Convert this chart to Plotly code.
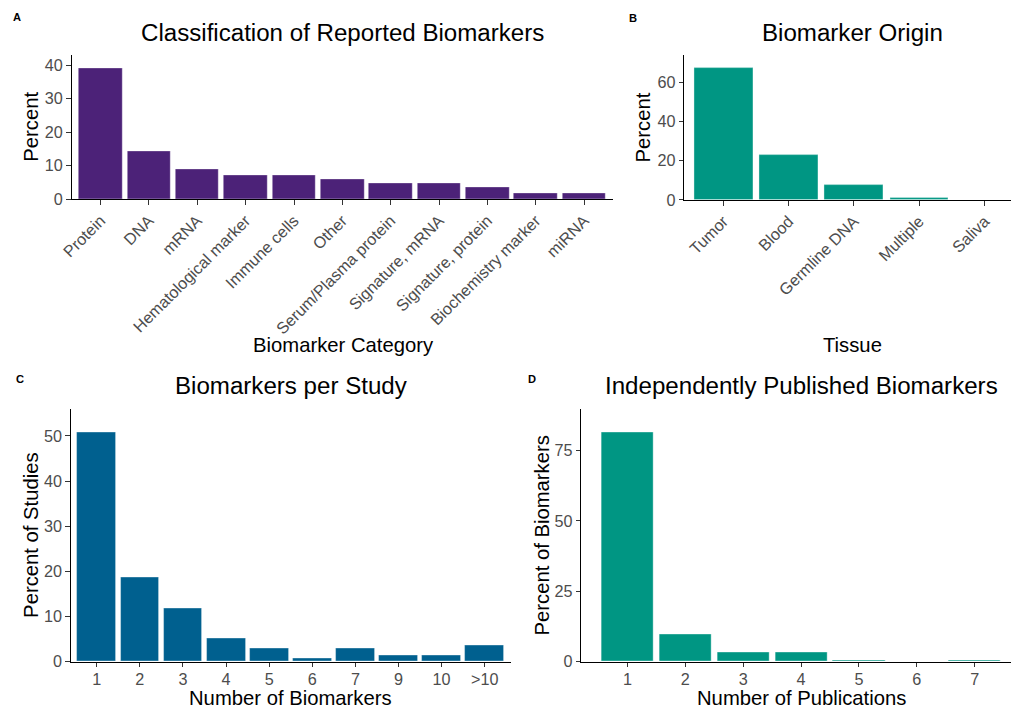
import plotly.graph_objects as go

W, H = 1011, 708

# ---- Data ----
cat_a = ["Protein", "DNA", "mRNA", "Hematological marker", "Immune cells", "Other",
         "Serum/Plasma protein", "Signature, mRNA", "Signature, protein",
         "Biochemistry marker", "miRNA"]
val_a = [39.1, 14.4, 9.0, 7.2, 7.2, 6.0, 4.8, 4.8, 3.5, 1.7, 1.7]

cat_b = ["Tumor", "Blood", "Germline DNA", "Multiple", "Saliva"]
val_b = [67.3, 22.9, 7.7, 1.2, 0.2]

cat_c = ["1", "2", "3", "4", "5", "6", "7", "9", "10", ">10"]
val_c = [50.8, 18.7, 11.9, 5.2, 2.9, 0.7, 2.9, 1.4, 1.4, 3.6]

num_d = [1, 2, 3, 4, 5, 6, 7]
val_d = [81.5, 9.8, 3.3, 3.3, 0.6, 0.0, 0.6]

PURPLE = "#4C2278"
TEAL = "#009683"
BLUE = "#00608F"
FONT = "Liberation Sans, Arial, sans-serif"
TICKCOL = "#4D4D4D"

# observed mapping of the rendered page: screen = OFF + S * figure_px
S = 0.987
OX, OY = 10.5, 0.8
XEND = min(W, OX + S * W)  # right-most visible screen px


def px(X):
    return min(1.0, max(0.0, ((X - OX) / S) / W))


def py(Y):
    return min(1.0, max(0.0, 1 - ((Y - OY) / S) / H))


def fs(v):
    return v / S


fig = go.Figure()
edge = dict(color="rgba(255,255,255,0.6)", width=0.6)
fig.add_trace(go.Bar(x=cat_a, y=val_a, width=0.9, marker=dict(color=PURPLE, line=edge),
                     xaxis="x", yaxis="y", showlegend=False))
fig.add_trace(go.Bar(x=cat_b, y=val_b, width=0.9, marker=dict(color=TEAL, line=edge),
                     xaxis="x2", yaxis="y2", showlegend=False))
fig.add_trace(go.Bar(x=cat_c, y=val_c, width=0.9, marker=dict(color=BLUE, line=edge),
                     xaxis="x3", yaxis="y3", showlegend=False))
fig.add_trace(go.Bar(x=num_d, y=val_d, width=0.9, marker=dict(color=TEAL, line=edge),
                     xaxis="x4", yaxis="y4", showlegend=False))

common = dict(showline=True, linecolor="black", linewidth=1.1, ticks="outside", ticklen=fs(4.5),
              tickcolor="#333333", tickwidth=1.1, showgrid=False, zeroline=False,
              tickfont=dict(family=FONT, size=fs(16), color=TICKCOL), fixedrange=True)

fig.update_layout(
    xaxis=dict(common, domain=[px(70), px(611)], anchor="y", type="category",
               range=[-0.6, len(cat_a) - 0.4], tickangle=-45),
    yaxis=dict(common, domain=[py(200), py(56)], anchor="x",
               range=[0, max(val_a) * 1.1], tickvals=[0, 10, 20, 30, 40]),
    xaxis2=dict(common, domain=[px(682), px(XEND)], anchor="y2", type="category",
                range=[-0.6, (XEND - 682) / 65.2 - 0.6], tickangle=-45),
    yaxis2=dict(common, domain=[py(200.7), py(55.7)], anchor="x2",
                range=[0, max(val_b) * 1.1], tickvals=[0, 20, 40, 60]),
    xaxis3=dict(common, domain=[px(69.3), px(508.5)], anchor="y3", type="category",
                range=[-0.6, len(cat_c) - 0.4], tickangle=0, ticklabelstandoff=-2),
    yaxis3=dict(common, domain=[py(662.3), py(410)], anchor="x3",
                range=[0, max(val_c) * 1.1], tickvals=[0, 10, 20, 30, 40, 50]),
    xaxis4=dict(common, domain=[px(579.3), px(XEND)], anchor="y4",
                range=[0.205, 0.205 + (XEND - 579.3) / 57.8], tickvals=num_d,
                ticklabelstandoff=-2),
    yaxis4=dict(common, domain=[py(662.3), py(410)], anchor="x4",
                range=[0, max(val_d) * 1.1], tickvals=[0, 25, 50, 75]),
)

ann = []


def text(t, x, y, size, rot=0, bold=False, color="black"):
    ann.append(dict(text=("<b>%s</b>" % t) if bold else t, x=px(x), y=py(y), xref="paper", yref="paper",
                    xanchor="center", yanchor="middle", showarrow=False, textangle=rot,
                    font=dict(family=FONT, size=fs(size), color=color)))


text("A", 15, 18, 11, bold=True)
text("B", 631, 19, 11, bold=True)
text("C", 18, 380, 11, bold=True)
text("D", 530, 380, 11, bold=True)
text("Classification of Reported Biomarkers", 341, 33, 23.8)
text("Biomarker Origin", 850, 33, 23.8)
text("Biomarkers per Study", 289, 386, 23.8)
text("Independently Published Biomarkers", 799, 386, 23.8)
text("Biomarker Category", 342, 346, 20)
text("Tissue", 850, 346, 20)
text("Number of Biomarkers", 289, 699, 20)
text("Number of Publications", 799, 699, 20)
text("Percent", 30, 128, 20, rot=-90)
text("Percent", 641, 128, 20, rot=-90)
text("Percent of Studies", 30, 536, 20, rot=-90)
text("Percent of Biomarkers", 540, 536, 20, rot=-90)

fig.update_layout(annotations=ann, width=W, height=H, margin=dict(l=0, r=0, t=0, b=0),
                  paper_bgcolor="white", plot_bgcolor="white", bargap=0,
                  font=dict(family=FONT))

fig.write_html("out.html", config={"displayModeBar": False},
               post_script="document.body.style.margin='0';document.body.style.padding='0';")
